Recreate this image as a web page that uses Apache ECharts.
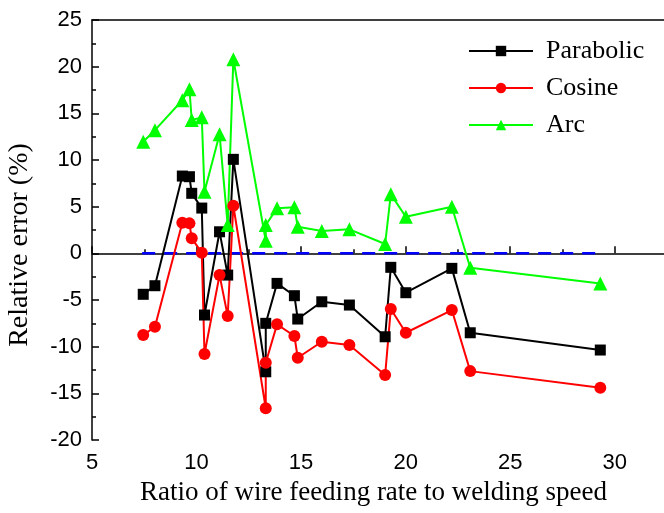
<!DOCTYPE html>
<html>
<head>
<meta charset="utf-8">
<script src="https://cdn.jsdelivr.net/npm/echarts@6/dist/echarts.min.js"></script>
<style>
  html, body { margin: 0; padding: 0; background: #fff; }
  #main { width: 664px; height: 513px; }
</style>
</head>
<body>
<div id="main"></div>
<script>
// 数据：横坐标（送丝速度/焊接速度之比）
const ratio = [7.45, 8.01, 9.32, 9.66, 9.77, 10.25, 10.38, 11.1, 11.49, 11.76, 13.31, 13.31,
  13.85, 14.68, 14.84, 15.99, 17.31, 19.02, 19.29, 20.01, 22.21, 23.09, 29.31];
// 三种模型的相对误差
const parabolic = [-4.39, -3.47, 8.28, 8.21, 6.43, 4.85, -6.61, 2.31, -2.33, 10.07, -12.69, -7.5,
  -3.22, -4.54, -7.04, -5.19, -5.54, -8.94, -1.5, -4.22, -1.61, -8.51, -10.36];
const cosine = [-8.76, -7.86, 3.28, 3.21, 1.61, 0.07, -10.79, -2.33, -6.72, 5.1, -16.6, -11.72,
  -7.61, -8.86, -11.19, -9.47, -9.83, -13.04, -5.97, -8.51, -6.08, -12.62, -14.4];
const arc = [11.96, 13.2, 16.4, 17.58, 14.29, 14.57, 6.6, 12.75, 3.03, 20.79, 1.35, 3.03,
  4.82, 4.93, 2.85, 2.39, 2.57, 1.0, 6.32, 3.92, 5.0, -1.54, -3.22];
// 零误差参考线
const zeroLine = [[7.4, 0], [29.3, 0]];

const serif = '"Liberation Serif", "Times New Roman", serif';
const sans = '"Liberation Sans", Arial, sans-serif';

function pairs(ys) {
  return ratio.map((x, i) => [x, ys[i]]);
}

const axisLineStyle = { color: '#000', width: 1.5 };

const chart = echarts.init(document.getElementById('main'));
chart.setOption({
  animation: false,
  grid: {
    left: 92, top: 20, width: 575, bottom: 73,
    outerBoundsMode: 'none', containLabel: false
  },
  legend: {
    orient: 'vertical',
    left: 463, top: 33,
    itemWidth: 64, itemHeight: 13, itemGap: 11,
    data: ['Parabolic', 'Cosine', 'Arc'],
    textStyle: { fontFamily: serif, fontSize: 26, color: '#000', padding: [0, 0, 0, 8] }
  },
  xAxis: [{
    type: 'value', min: 5, max: 32.5, interval: 5,
    name: 'Ratio of wire feeding rate to welding speed',
    nameLocation: 'middle', nameGap: 39,
    nameTextStyle: { fontFamily: serif, fontSize: 27, color: '#000', padding: [0, 12, 0, 0] },
    axisLine: { lineStyle: axisLineStyle },
    axisTick: { inside: true, length: 7, lineStyle: axisLineStyle },
    minorTick: { show: true, splitNumber: 2, length: 4, lineStyle: axisLineStyle },
    axisLabel: { fontFamily: sans, fontSize: 22, color: '#000', margin: 12, showMaxLabel: false },
    splitLine: { show: false }
  }, {
    // 顶部边框
    type: 'value', position: 'top', min: 5, max: 32.5,
    axisLine: { show: true, lineStyle: axisLineStyle },
    axisTick: { show: false }, axisLabel: { show: false }, splitLine: { show: false }
  }],
  yAxis: {
    type: 'value', min: -20, max: 25, interval: 5,
    name: 'Relative error (%)',
    nameLocation: 'middle', nameGap: 58,
    nameTextStyle: { fontFamily: serif, fontSize: 28, color: '#000', padding: [0, 30, 0, 0] },
    axisLine: { show: true, lineStyle: axisLineStyle },
    axisTick: { inside: true, length: 7, lineStyle: axisLineStyle },
    minorTick: { show: true, splitNumber: 2, length: 4, lineStyle: axisLineStyle },
    axisLabel: { fontFamily: sans, fontSize: 22, color: '#000', margin: 10 },
    splitLine: { show: false }
  },
  series: [
    {
      name: 'zero', type: 'line', data: zeroLine, symbol: 'none', silent: true,
      lineStyle: { color: '#0000ff', width: 2.5, type: [13, 9] }
    },
    {
      name: 'Parabolic', type: 'line', data: pairs(parabolic),
      symbol: 'rect', symbolSize: 11,
      itemStyle: { color: '#000' },
      lineStyle: { color: '#000', width: 2 }
    },
    {
      name: 'Cosine', type: 'line', data: pairs(cosine),
      symbol: 'circle', symbolSize: 12,
      itemStyle: { color: '#ff0000' },
      lineStyle: { color: '#ff0000', width: 2 }
    },
    {
      name: 'Arc', type: 'line', data: pairs(arc),
      symbol: 'triangle', symbolSize: 14,
      itemStyle: { color: '#00ff00' },
      lineStyle: { color: '#00ff00', width: 2 }
    }
  ]
});
</script>
</body>
</html>
